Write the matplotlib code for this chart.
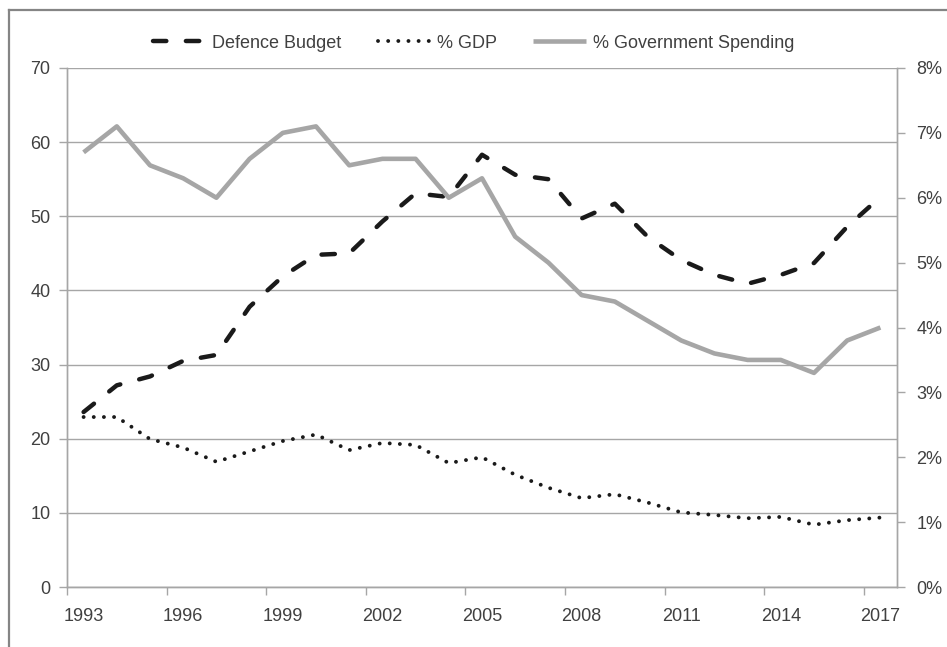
import matplotlib
matplotlib.use("Agg")
import matplotlib.pyplot as plt
from matplotlib.lines import Line2D
from matplotlib.ticker import FixedLocator, NullFormatter

plt.rcParams['font.family'] = ['Liberation Sans', 'DejaVu Sans']

years = list(range(1993, 2018))
defence_budget = [23.6, 27.2, 28.4, 30.5, 31.3, 37.8, 41.9, 44.8, 45.0, 49.3, 53.1, 52.6,
                  58.3, 55.6, 55.0, 49.7, 51.7, 47.2, 44.1, 42.1, 40.9, 42.1, 43.7, 48.6, 52.6]
pct_gdp = [2.62, 2.62, 2.28, 2.15, 1.93, 2.09, 2.25, 2.35, 2.11, 2.22, 2.19, 1.91,
           2.0, 1.73, 1.53, 1.37, 1.43, 1.30, 1.15, 1.11, 1.06, 1.08, 0.96, 1.03, 1.07]
pct_gov = [6.7, 7.1, 6.5, 6.3, 6.0, 6.6, 7.0, 7.1, 6.5, 6.6, 6.6, 6.0,
           6.3, 5.4, 5.0, 4.5, 4.4, 4.1, 3.8, 3.6, 3.5, 3.5, 3.3, 3.8, 4.0]
label_years = list(range(1993, 2018, 3))

txt = '#404040'
grid_c = '#a6a6a6'

fig = plt.figure(figsize=(9.47, 6.47), dpi=100)
# outer chart border (only left and top are inside the picture)
bx, by = 8.5 / 947, 1 - 10 / 647
fig.add_artist(Line2D([bx, bx], [0, by], transform=fig.transFigure,
                      color='#858585', lw=1.6, solid_capstyle='projecting'))
fig.add_artist(Line2D([bx, 1], [by, by], transform=fig.transFigure,
                      color='#858585', lw=1.6, solid_capstyle='projecting'))

ax = fig.add_axes([67 / 947, 1 - 587 / 647, (897 - 67) / 947, (587 - 68) / 647])
ax2 = ax.twinx()

l1, = ax.plot(years, defence_budget, color='#1a1a1a', lw=3.2, linestyle=(0, (3, 4.4)),
              dash_capstyle='round', label='Defence Budget', zorder=3)
l2, = ax2.plot(years, pct_gdp, color='#1a1a1a', lw=2.8, linestyle=(0, (0.01, 2.6)),
               dash_capstyle='round', label='% GDP', zorder=3)
l3, = ax2.plot(years, pct_gov, color='#a6a6a6', lw=3.3, label='% Government Spending',
               solid_capstyle='butt', zorder=2)

ax.set_xlim(1992.5, 2017.5)
ax.set_ylim(0, 70)
ax2.set_ylim(0, 8)

ax.set_yticks(range(0, 71, 10))
ax2.set_yticks(range(0, 9))
ax2.set_yticklabels([f"{v}%" for v in range(0, 9)])

ax.xaxis.set_major_locator(FixedLocator([1992.5 + 3 * k for k in range(9)]))
ax.xaxis.set_major_formatter(NullFormatter())
ax.xaxis.set_minor_locator(FixedLocator(label_years))
ax.set_xticklabels([str(y) for y in label_years], minor=True)
ax.tick_params(axis='x', which='major', length=6, width=1, color=grid_c)
ax.tick_params(axis='x', which='minor', length=0, pad=15, labelsize=13, labelcolor=txt)
ax.tick_params(axis='y', length=6, width=1, color=grid_c, pad=6, labelsize=13, labelcolor=txt)
ax2.tick_params(axis='y', length=6, width=1, color=grid_c, pad=8, labelsize=13, labelcolor=txt)

ax.grid(axis='y', color=grid_c, lw=1.0)
ax.set_axisbelow(True)

for a in (ax, ax2):
    a.spines['top'].set_visible(False)
    for s in ('left', 'right', 'bottom'):
        a.spines[s].set_color(grid_c)
        a.spines[s].set_linewidth(1.0)

fig.legend(handles=[l1, l2, l3], loc='center', bbox_to_anchor=(0.5, 1 - 43 / 647), ncol=3,
           frameon=False, fontsize=13, labelcolor=txt, handlelength=2.9, columnspacing=2.0,
           handletextpad=0.4)

fig.savefig("out.png", dpi=100)
